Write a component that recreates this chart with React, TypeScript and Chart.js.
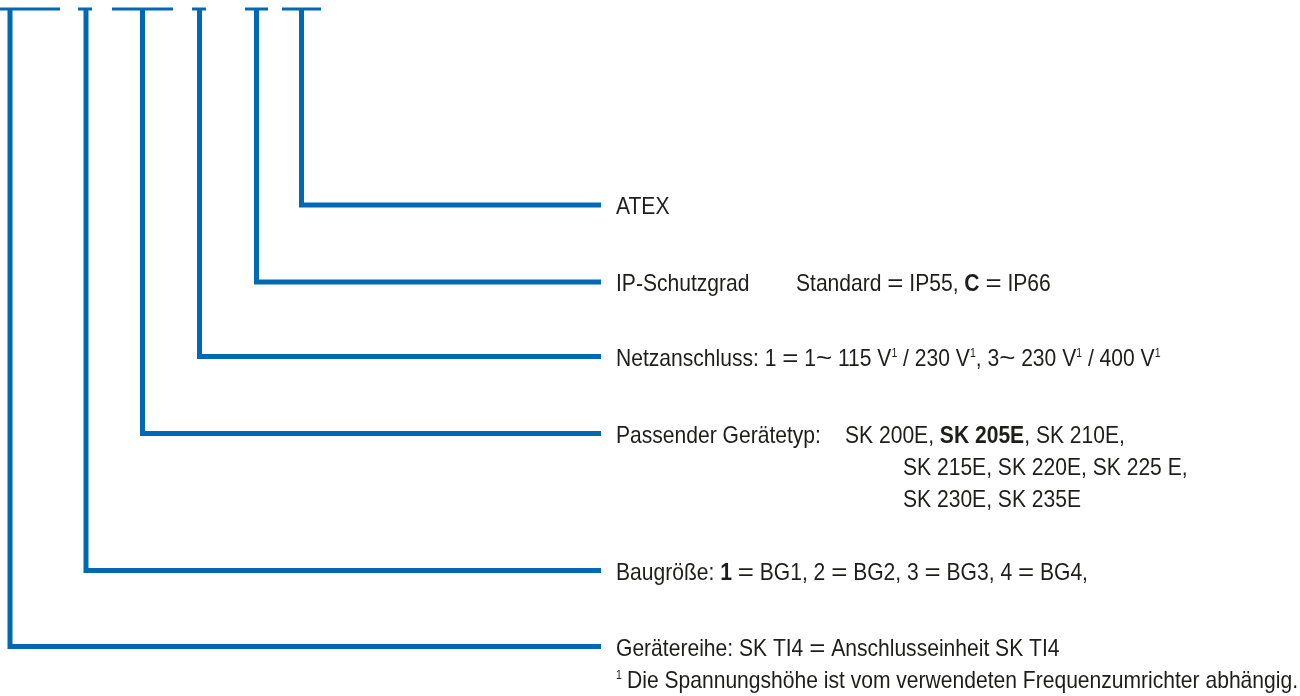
import { useEffect, useRef } from 'react';
import { Chart, registerables } from 'chart.js';

Chart.register(...registerables);

// code position of each stem, left to right (Gerätereihe ... ATEX)
const stemX = [10, 86, 142.5, 199.5, 256.5, 301.5];
// the short bars on top of each code field
const barLeft = [0, 78, 112, 192, 245, 282];
const barRight = [60, 92, 173, 206, 268, 321];
// level of the leader line for each field
const levelY = [646.5, 570.5, 433.5, 356.5, 282, 205];
const topY = 9;
const leaderEnd = 601;

type Run = { t: string; b?: boolean; sup?: boolean; at?: number };

const gereatereihe: Run[] = [{ t: 'Gerätereihe: SK TI4 = Anschlusseinheit SK TI4' }];
const baugroesse: Run[] = [
  { t: 'Baugröße: ' }, { t: '1', b: true }, { t: ' = BG1, 2 = BG2, 3 = BG3, 4 = BG4,' },
];
const passender: Run[] = [
  { t: 'Passender Gerätetyp:' },
  { t: 'SK 200E, ', at: 845 }, { t: 'SK 205E', b: true }, { t: ', SK 210E,' },
];
const passender2: Run[] = [{ t: 'SK 215E, SK 220E, SK 225 E,', at: 903 }];
const passender3: Run[] = [{ t: 'SK 230E, SK 235E', at: 903 }];
const netz: Run[] = [
  { t: 'Netzanschluss: 1 = 1~ 115 V' }, { t: '1', sup: true }, { t: ' / 230 V' }, { t: '1', sup: true },
  { t: ', 3~ 230 V' }, { t: '1', sup: true }, { t: ' / 400 V' }, { t: '1', sup: true },
];
const ip: Run[] = [
  { t: 'IP-Schutzgrad' }, { t: 'Standard = IP55, ', at: 796 }, { t: 'C', b: true }, { t: ' = IP66' },
];
const atex: Run[] = [{ t: 'ATEX' }];
const footnote: Run[] = [
  { t: '1', sup: true },
  { t: 'Die Spannungshöhe ist vom verwendeten Frequenzumrichter abhängig.', at: 627 },
];

// rows: [text, level index, extra row offset]
const rows: [Run[], number, number][] = [
  [atex, 5, 0],
  [ip, 4, 0],
  [netz, 3, 0],
  [passender, 2, 0],
  [passender2, 2, 1],
  [passender3, 2, 2],
  [baugroesse, 1, 0],
  [gereatereihe, 0, 0],
  [footnote, 0, 1],
];

const BLUE = '#0068b4';
const FONT = '"Liberation Sans", Arial, sans-serif';
const TEXT_X = 616;
const FOOT_END = 1298;

const textPlugin = {
  id: 'codeText',
  afterDatasetsDraw(chart: Chart) {
    const { ctx } = chart;
    const xs = chart.scales.x;
    const ys = chart.scales.y;
    ctx.save();
    ctx.fillStyle = '#1d1d1b';
    ctx.textBaseline = 'alphabetic';
    // squeeze the sans font so the footnote spans the same width as the reference
    ctx.font = `24px ${FONT}`;
    const foot = footnote[1];
    const k = (xs.getPixelForValue(FOOT_END) - xs.getPixelForValue(foot.at!)) / ctx.measureText(foot.t).width;
    rows.forEach(([runs, lvl, off]) => {
      const base = ys.getPixelForValue(levelY[lvl]) + 9 + off * 32;
      let x = xs.getPixelForValue(TEXT_X);
      runs.forEach((r) => {
        if (r.at !== undefined) x = xs.getPixelForValue(r.at);
        const size = r.sup ? 12 : 24;
        ctx.font = `${r.b ? 'bold ' : ''}${size}px ${FONT}`;
        // symbols such as = and ~ keep their full width, letters are condensed
        r.t.split(/([=~])/).forEach((part) => {
          if (!part) return;
          const sx = part === '=' || part === '~' ? 1.15 : k;
          ctx.save();
          ctx.translate(x, r.sup ? base - 9 : base);
          ctx.scale(sx, 1);
          ctx.fillText(part, 0, 0);
          ctx.restore();
          x += ctx.measureText(part).width * sx;
        });
      });
    });
    ctx.restore();
  },
};

export default function App() {
  const canvasRef = useRef<HTMLCanvasElement>(null);

  useEffect(() => {
    document.body.style.margin = '0';
    if (!canvasRef.current) return;

    const datasets: any[] = [];
    stemX.forEach((sx, i) => {
      datasets.push({
        data: [
          { x: sx, y: topY },
          { x: sx, y: levelY[i] },
          { x: leaderEnd, y: levelY[i] },
        ],
        borderWidth: 5,
      });
      datasets.push({
        data: [
          { x: barLeft[i], y: topY },
          { x: barRight[i], y: topY },
        ],
        borderWidth: 3,
      });
    });

    const chart = new Chart(canvasRef.current, {
      type: 'scatter',
      data: {
        datasets: datasets.map((d) => ({
          ...d,
          showLine: true,
          borderColor: BLUE,
          pointRadius: 0,
          borderCapStyle: 'butt',
          borderJoinStyle: 'miter',
          tension: 0,
          clip: false,
        })),
      },
      options: {
        animation: false,
        responsive: true,
        maintainAspectRatio: false,
        layout: { padding: 0 },
        plugins: { legend: { display: false }, tooltip: { enabled: false } },
        scales: {
          x: { type: 'linear', min: 0, max: 1300, display: false },
          y: { type: 'linear', min: 0, max: 696, reverse: true, display: false },
        },
      },
      plugins: [textPlugin],
    });

    return () => chart.destroy();
  }, []);

  return (
    <div style={{ width: 1300, height: 696, background: '#fff' }}>
      <canvas ref={canvasRef}></canvas>
    </div>
  );
}
